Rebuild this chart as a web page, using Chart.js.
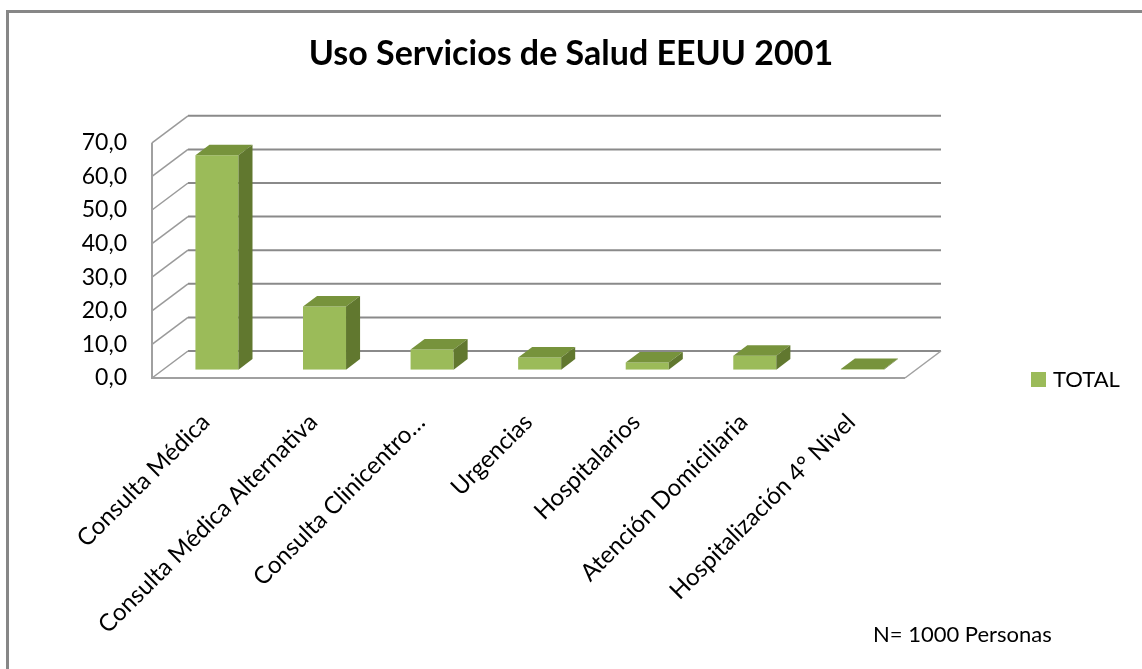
<!DOCTYPE html>
<html>
<head>
<meta charset="utf-8">
<script src="https://cdn.jsdelivr.net/npm/chart.js@4/dist/chart.umd.min.js"></script>
<style>
  html, body { margin: 0; background: #fff; }
</style>
</head>
<body>
<canvas id="grafico" width="1142" height="669"></canvas>
<script>
// datos
const categorias = ['Consulta Médica', 'Consulta Médica Alternativa', 'Consulta Clinicentro…', 'Urgencias', 'Hospitalarios', 'Atención Domiciliaria', 'Hospitalización 4° Nivel'];
const totales = [63.8, 18.8, 6.0, 3.6, 2.1, 4.1, 0.2];
const ticksY = [0, 10, 20, 30, 40, 50, 60, 70];

const verde = '#9bbb59', verdeTapa = '#77933c', verdeLado = '#61782f';
const gris = '#8a8a8a';
const FUENTE = 'Lato';

// profundidad del efecto 3D (pared izquierda / fondo)
const PX = 36, PY = -27;
const F1 = 0.31, F2 = 0.70;

const efecto3D = {
    id: 'efecto3D',
    beforeDraw(chart) {
        const ctx = chart.ctx;
        const { left, right, top, bottom } = chart.chartArea;
        const y = chart.scales.y;
        ctx.save();
        // marco
        ctx.strokeStyle = '#878787';
        ctx.lineWidth = 3;
        ctx.beginPath();
        ctx.moveTo(7.5, 669);
        ctx.lineTo(7.5, 11.5);
        ctx.lineTo(1142, 11.5);
        ctx.stroke();
        // pared del fondo y pared izquierda
        ctx.lineWidth = 2;
        ticksY.forEach(v => {
            const yp = y.getPixelForValue(v);
            ctx.strokeStyle = gris;
            ctx.beginPath();
            ctx.moveTo(left + PX, yp + PY);
            ctx.lineTo(right + PX, yp + PY);
            ctx.stroke();
            ctx.strokeStyle = '#9a9a9a';
            ctx.lineWidth = 1.5;
            ctx.beginPath();
            ctx.moveTo(left, yp);
            ctx.lineTo(left + PX, yp + PY);
            ctx.stroke();
            ctx.lineWidth = 2;
        });
        ctx.strokeStyle = '#a0a0a0';
        ctx.beginPath();
        ctx.moveTo(left, top);
        ctx.lineTo(left, bottom);
        ctx.lineTo(right, bottom);
        ctx.stroke();
        ctx.lineWidth = 1.5;
        ctx.beginPath();
        ctx.moveTo(right, bottom);
        ctx.lineTo(right + PX, bottom + PY);
        ctx.stroke();
        ctx.restore();
    },
    beforeDatasetsDraw(chart) {
        chart.ctx.save();
        chart.ctx.translate(PX * F1, PY * F1);
    },
    afterDatasetsDraw(chart) {
        const ctx = chart.ctx;
        ctx.restore();
        const ox = PX * (F2 - F1), oy = PY * (F2 - F1);
        chart.getDatasetMeta(0).data.forEach(bar => {
            const { x, y, base, width } = bar.getProps(['x', 'y', 'base', 'width'], true);
            const l = x - width / 2 + PX * F1, r = x + width / 2 + PX * F1;
            const t = y + PY * F1, b = base + PY * F1;
            ctx.fillStyle = verdeTapa;
            ctx.beginPath();
            ctx.moveTo(l, t); ctx.lineTo(r, t); ctx.lineTo(r + ox, t + oy); ctx.lineTo(l + ox, t + oy);
            ctx.closePath();
            ctx.fill();
            ctx.fillStyle = verdeLado;
            ctx.beginPath();
            ctx.moveTo(r, t); ctx.lineTo(r + ox, t + oy); ctx.lineTo(r + ox, b + oy); ctx.lineTo(r, b);
            ctx.closePath();
            ctx.fill();
        });
    },
    afterDraw(chart) {
        const ctx = chart.ctx;
        ctx.save();
        // leyenda
        ctx.fillStyle = chart.data.datasets[0].backgroundColor;
        ctx.fillRect(1031, 372, 15, 15);
        ctx.fillStyle = '#000';
        ctx.font = `22px ${FUENTE}`;
        ctx.textBaseline = 'middle';
        ctx.fillText(chart.data.datasets[0].label, 1053, 380);
        ctx.fillText('N= 1000 Personas', 873, 635);
        ctx.restore();
    }
};

new Chart(document.getElementById('grafico').getContext('2d'), {
    type: 'bar',
    data: {
        labels: categorias,
        datasets: [{
            label: 'TOTAL',
            data: totales,
            backgroundColor: verde,
            barPercentage: 0.4,
            categoryPercentage: 1
        }]
    },
    options: {
        responsive: false,
        animation: false,
        layout: { padding: 0 },
        plugins: {
            legend: { display: false },
            tooltip: { enabled: false },
            title: {
                display: true,
                text: 'Uso Servicios de Salud EEUU 2001',
                color: '#000',
                font: { family: FUENTE, size: 34, weight: 'bold' },
                padding: { top: 34, bottom: 68 }
            }
        },
        scales: {
            x: {
                grid: { display: false, drawTicks: false },
                border: { display: false },
                ticks: {
                    color: '#000',
                    font: { family: FUENTE, size: 24 },
                    minRotation: 45,
                    maxRotation: 45,
                    autoSkip: false,
                    padding: 30
                },
                afterFit: scale => { scale.height = 291; }
            },
            y: {
                min: 0,
                max: 70,
                grid: { display: false, drawTicks: false },
                border: { display: false },
                ticks: {
                    stepSize: 10,
                    color: '#000',
                    font: { family: FUENTE, size: 23 },
                    padding: 25,
                    callback: v => v.toFixed(1).replace('.', ',')
                },
                afterFit: scale => { scale.width = 152; }
            },
            // espacio a la derecha para la leyenda
            margen: {
                type: 'linear',
                position: 'right',
                grid: { display: false, drawTicks: false },
                border: { display: false },
                ticks: { display: false },
                afterFit: scale => { scale.width = 237; }
            }
        }
    },
    plugins: [efecto3D]
});
</script>
</body>
</html>
